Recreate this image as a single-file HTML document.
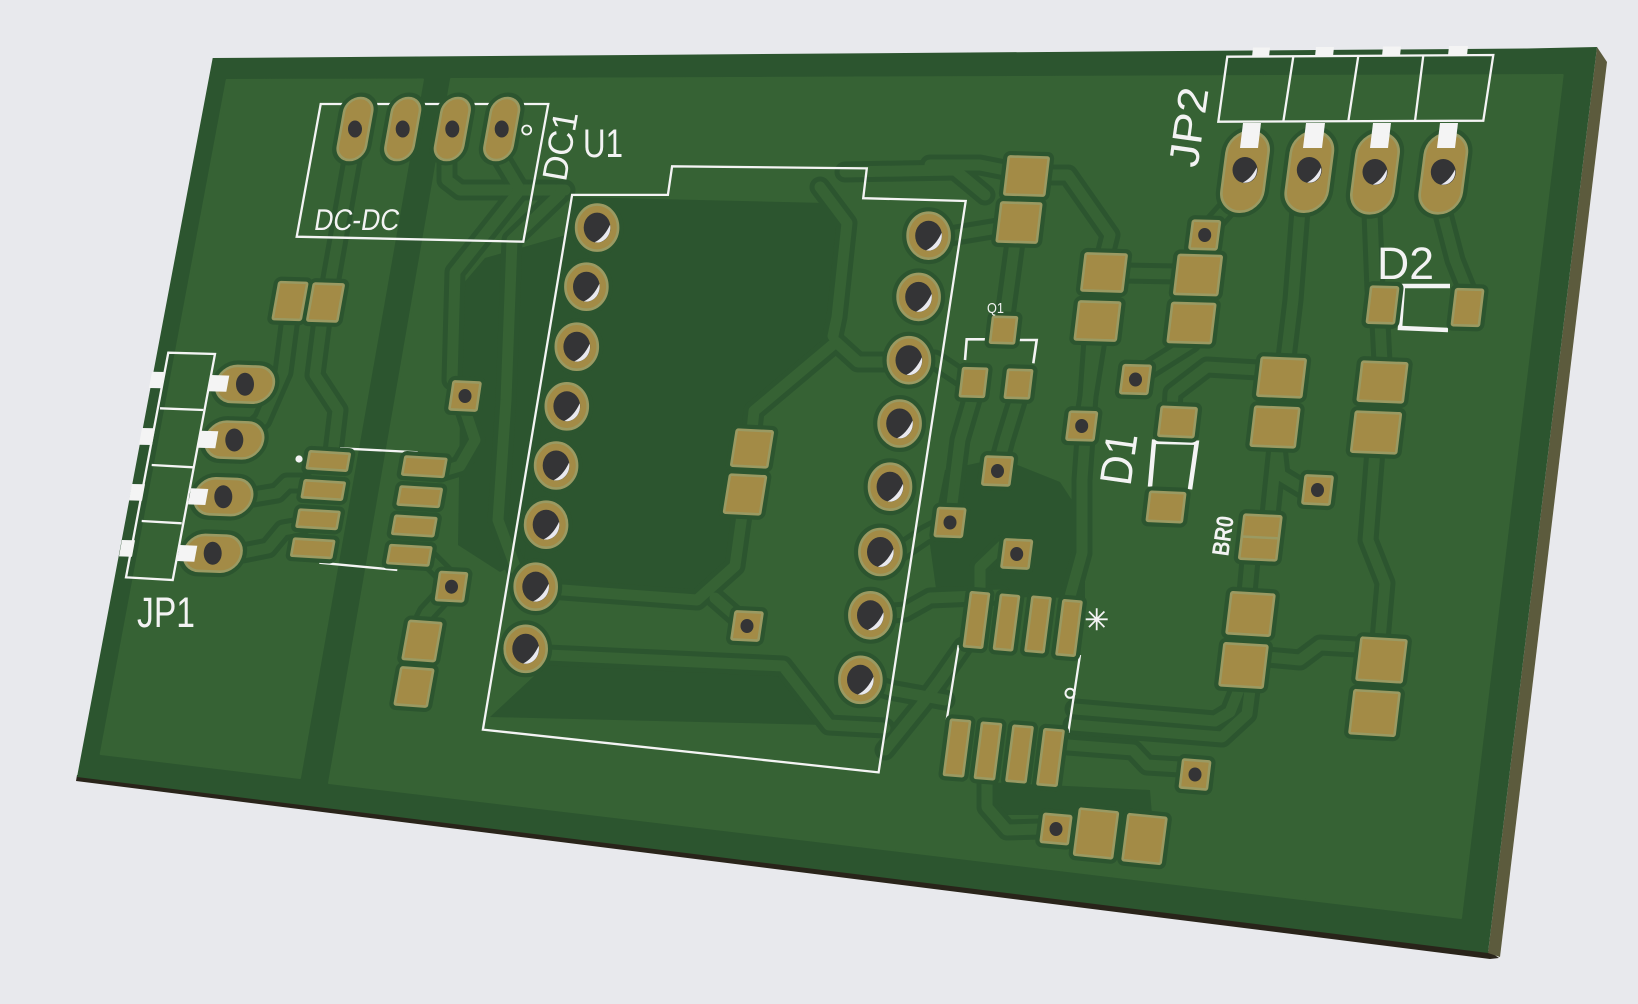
<!DOCTYPE html>
<html><head><meta charset="utf-8"><style>
html,body{margin:0;padding:0;background:#e8e9ed;}
svg{display:block}
text{font-family:"Liberation Sans",sans-serif;fill:#f3f3f3}
</style></head><body>
<svg width="1638" height="1004" viewBox="0 0 1638 1004" xmlns="http://www.w3.org/2000/svg" xmlns:xlink="http://www.w3.org/1999/xlink">
<defs>
<g id="tr">
<polyline points="352,160 330,284"/>
<polyline points="322,320 315,375 338,410 333,452"/>
<polyline points="290,318 283,372 262,420 240,440"/>
<polyline points="253,497 277,493 287,483 305,483"/>
<polyline points="243,553 268,548 283,530 300,527"/>
<polyline points="440,472 460,466 475,440 465,410"/>
<polyline points="430,560 445,575 451,587 427,613 422,623"/>
<polyline points="447,160 447,180 460,190 565,190"/>
<polyline points="502,160 520,190 455,272 452,380"/>
<polyline points="560,194 512,240 506,400 498,520 522,585"/>
<polyline points="548,655 783,666 829,725 885,728"/>
<polyline points="536,588 697,600 735,566 742,515"/>
<polyline points="747,626 715,598"/>
<polyline points="752,430 754,411 836,342 858,362 902,362"/>
<polyline points="820,187 847,223 837,317 833,336"/>
<polyline points="845,172 955,170 985,195"/>
<polyline points="930,165 980,165 1005,170"/>
<polyline points="950,236 998,228"/>
<polyline points="935,360 962,378"/>
<polyline points="1048,175 1068,175 1110,235 1105,255"/>
<polyline points="1125,273 1177,274"/>
<polyline points="1203,235 1230,205 1242,190"/>
<polyline points="1300,210 1293,300 1286,358"/>
<polyline points="1372,213 1375,290"/>
<polyline points="1380,323 1382,362"/>
<polyline points="1443,214 1455,260 1467,290"/>
<polyline points="1258,370 1207,367 1173,393 1172,410"/>
<polyline points="1277,447 1270,515"/>
<polyline points="1305,490 1280,475 1277,447"/>
<polyline points="1250,560 1247,593"/>
<polyline points="1240,687 1230,712 1215,721 1075,709"/>
<polyline points="1250,690 1247,714 1222,737 1073,725"/>
<polyline points="1267,657 1300,660 1320,645 1357,647"/>
<polyline points="1375,450 1368,540 1385,583 1380,640"/>
<polyline points="1180,767 1147,765 1133,750 1068,745"/>
<polyline points="987,780 987,807 1007,830 1040,829"/>
<polyline points="980,592 980,567 1003,545"/>
<polyline points="1069,600 1082,553 1082,480 1092,340"/>
<polyline points="963,647 940,680 923,703 885,750"/>
<polyline points="1015,242 1005,316"/>
<polyline points="973,396 960,440 950,520"/>
<polyline points="1018,398 1005,440 997,470"/>
<polyline points="1097,340 1085,415"/>
<polyline points="1191,343 1140,375"/>
<polyline points="900,552 925,535 950,522"/>
<polyline points="870,615 905,612 930,598 1000,595"/>
<polyline points="860,680 890,690 945,700"/>
</g>
<g id="pads">
<rect transform="matrix(1 0 -.18 1 355 129)" x="-14" y="-31" width="28" height="62" rx="14"/>
<rect transform="matrix(1 0 -.18 1 402.7 129)" x="-14" y="-31" width="28" height="62" rx="14"/>
<rect transform="matrix(1 0 -.18 1 452.3 129)" x="-14" y="-31" width="28" height="62" rx="14"/>
<rect transform="matrix(1 0 -.18 1 501.7 129)" x="-14" y="-31" width="28" height="62" rx="14"/>
<rect transform="matrix(1 .03 -.18 1 290 301)" x="-14" y="-18.5" width="28" height="37" rx="1.5"/>
<rect transform="matrix(1 .03 -.18 1 325.5 302.5)" x="-15" y="-18.5" width="30" height="37" rx="1.5"/>
<rect transform="matrix(1 .035 -.19 1 245 384.3)" x="-28.5" y="-18" width="57" height="36" rx="18"/>
<rect transform="matrix(1 .035 -.19 1 234.3 440)" x="-28.5" y="-18" width="57" height="36" rx="18"/>
<rect transform="matrix(1 .035 -.19 1 223.3 496.7)" x="-28.5" y="-18" width="57" height="36" rx="18"/>
<rect transform="matrix(1 .035 -.19 1 212.7 553.3)" x="-28.5" y="-18" width="57" height="36" rx="18"/>
<rect transform="matrix(1 .06 -.18 1 328.3 461)" x="-20" y="-8.5" width="40" height="17" rx="1"/>
<rect transform="matrix(1 .06 -.18 1 323.3 490)" x="-20" y="-8.5" width="40" height="17" rx="1"/>
<rect transform="matrix(1 .06 -.18 1 318 519.3)" x="-20" y="-8.5" width="40" height="17" rx="1"/>
<rect transform="matrix(1 .06 -.18 1 312.7 548.3)" x="-20" y="-8.5" width="40" height="17" rx="1"/>
<rect transform="matrix(1 .06 -.18 1 424.3 466.7)" x="-20.5" y="-9" width="41" height="18" rx="1"/>
<rect transform="matrix(1 .06 -.18 1 419.7 496.7)" x="-20.5" y="-9" width="41" height="18" rx="1"/>
<rect transform="matrix(1 .06 -.18 1 414.3 526)" x="-20.5" y="-9" width="41" height="18" rx="1"/>
<rect transform="matrix(1 .06 -.18 1 409.3 555.3)" x="-20.5" y="-9" width="41" height="18" rx="1"/>
<rect transform="matrix(1 .07 -.18 1 422 641)" x="-16" y="-19" width="32" height="38" rx="1.5"/>
<rect transform="matrix(1 .07 -.18 1 414 687)" x="-16" y="-18.5" width="32" height="37" rx="1.5"/>
<path d="M576.1 227.6a21 23 0 1 0 42 0a21 23 0 1 0 -42 0M565.4 286.7a21 23 0 1 0 42 0a21 23 0 1 0 -42 0M555.8 346.7a21 23 0 1 0 42 0a21 23 0 1 0 -42 0M545.8 406.3a21 23 0 1 0 42 0a21 23 0 1 0 -42 0M535.1 465.5a21 23 0 1 0 42 0a21 23 0 1 0 -42 0M525.1 524.7a21 23 0 1 0 42 0a21 23 0 1 0 -42 0M514.7 586.7a21 23 0 1 0 42 0a21 23 0 1 0 -42 0M504.7 648.8a21 23 0 1 0 42 0a21 23 0 1 0 -42 0M907.6 235.7a21 23 0 1 0 42 0a21 23 0 1 0 -42 0M897.6 296.9a21 23 0 1 0 42 0a21 23 0 1 0 -42 0M887.9 360.2a21 23 0 1 0 42 0a21 23 0 1 0 -42 0M878.6 423.5a21 23 0 1 0 42 0a21 23 0 1 0 -42 0M869 486.7a21 23 0 1 0 42 0a21 23 0 1 0 -42 0M859.4 552a21 23 0 1 0 42 0a21 23 0 1 0 -42 0M849.4 615.3a21 23 0 1 0 42 0a21 23 0 1 0 -42 0M839.4 679.8a21 23 0 1 0 42 0a21 23 0 1 0 -42 0"/>
<rect transform="matrix(1 .05 -.16 1 752 448.5)" x="-18" y="-18" width="36" height="36" rx="1.5"/>
<rect transform="matrix(1 .05 -.16 1 745 494.5)" x="-18" y="-19" width="36" height="38" rx="1.5"/>
<rect transform="matrix(1 .05 -.15 1 465 396)" x="-13.5" y="-14" width="27" height="28" rx="1.5"/>
<rect transform="matrix(1 .05 -.15 1 451.5 586.7)" x="-13.5" y="-14" width="27" height="28" rx="1.5"/>
<rect transform="matrix(1 .05 -.15 1 747 626)" x="-13.5" y="-14" width="27" height="28" rx="1.5"/>
<rect transform="matrix(1 .03 -.13 1 1204.7 235)" x="-13.5" y="-14" width="27" height="28" rx="1.5"/>
<rect transform="matrix(1 .03 -.13 1 1135.5 379.5)" x="-13.5" y="-14" width="27" height="28" rx="1.5"/>
<rect transform="matrix(1 .03 -.13 1 1081.7 426)" x="-13.5" y="-14" width="27" height="28" rx="1.5"/>
<rect transform="matrix(1 .04 -.13 1 997.5 471)" x="-13.5" y="-14" width="27" height="28" rx="1.5"/>
<rect transform="matrix(1 .04 -.13 1 950 522.5)" x="-13.5" y="-14" width="27" height="28" rx="1.5"/>
<rect transform="matrix(1 .05 -.13 1 1016.7 554)" x="-13.5" y="-14" width="27" height="28" rx="1.5"/>
<rect transform="matrix(1 .05 -.12 1 1317.5 490)" x="-13.5" y="-14" width="27" height="28" rx="1.5"/>
<rect transform="matrix(1 .08 -.12 1 1195 774.5)" x="-13.5" y="-14" width="27" height="28" rx="1.5"/>
<rect transform="matrix(1 .09 -.13 1 1056 829)" x="-13.5" y="-14" width="27" height="28" rx="1.5"/>
<rect transform="matrix(1 .03 -.12 1 1026.5 176)" x="-20" y="-19" width="40" height="38" rx="1.5"/>
<rect transform="matrix(1 .03 -.12 1 1019 222.5)" x="-20" y="-19.5" width="40" height="39" rx="1.5"/>
<rect transform="matrix(1 .03 -.12 1 1003.5 330)" x="-12" y="-13" width="24" height="26" rx="1"/>
<rect transform="matrix(1 .03 -.12 1 973.5 382.5)" x="-12" y="-14" width="24" height="28" rx="1"/>
<rect transform="matrix(1 .03 -.12 1 1018.5 384)" x="-12" y="-14" width="24" height="28" rx="1"/>
<rect transform="matrix(1 .03 -.12 1 1104 272.5)" x="-20.5" y="-18.5" width="41" height="37" rx="1.5"/>
<rect transform="matrix(1 .03 -.12 1 1097.5 321)" x="-20.5" y="-19" width="41" height="38" rx="1.5"/>
<rect transform="matrix(1 .03 -.12 1 1198 275)" x="-21.5" y="-19.5" width="43" height="39" rx="1.5"/>
<rect transform="matrix(1 .03 -.12 1 1191.5 323)" x="-21.5" y="-19.5" width="43" height="39" rx="1.5"/>
<rect transform="matrix(1 .04 -.12 1 1177.5 422)" x="-17.5" y="-14.5" width="35" height="29" rx="1.5"/>
<rect transform="matrix(1 .04 -.12 1 1166 507)" x="-17.5" y="-14.5" width="35" height="29" rx="1.5"/>
<rect transform="matrix(1 .04 -.12 1 1281.5 377.5)" x="-22" y="-19" width="44" height="38" rx="1.5"/>
<rect transform="matrix(1 .04 -.12 1 1275 427)" x="-22" y="-19.5" width="44" height="39" rx="1.5"/>
<rect transform="matrix(1 .04 -.12 1 1382.5 382)" x="-22.5" y="-19.5" width="45" height="39" rx="1.5"/>
<rect transform="matrix(1 .04 -.12 1 1376 432.5)" x="-22.5" y="-20" width="45" height="40" rx="1.5"/>
<rect transform="matrix(1 .03 -.12 1 1382.5 305)" x="-13.5" y="-18" width="27" height="36" rx="1.5"/>
<rect transform="matrix(1 .03 -.12 1 1467.5 307.5)" x="-13.5" y="-18" width="27" height="36" rx="1.5"/>
<rect transform="matrix(1 .05 -.12 1 1260.3 537.5)" x="-18.5" y="-22" width="37" height="44" rx="1.5"/>
<rect transform="matrix(1 .06 -.12 1 1250.5 614)" x="-21.5" y="-20.5" width="43" height="41" rx="1.5"/>
<rect transform="matrix(1 .06 -.12 1 1243.5 665.5)" x="-21.5" y="-21" width="43" height="42" rx="1.5"/>
<rect transform="matrix(1 .06 -.12 1 1381.5 660)" x="-22.5" y="-21" width="45" height="42" rx="1.5"/>
<rect transform="matrix(1 .06 -.12 1 1374.5 713)" x="-22.5" y="-21.5" width="45" height="43" rx="1.5"/>
<rect transform="matrix(1 .08 -.13 1 976.5 620)" x="-9" y="-27" width="18" height="54" rx="1"/>
<rect transform="matrix(1 .08 -.13 1 1006.5 622.5)" x="-9" y="-27" width="18" height="54" rx="1"/>
<rect transform="matrix(1 .08 -.13 1 1038 624.5)" x="-9" y="-27" width="18" height="54" rx="1"/>
<rect transform="matrix(1 .08 -.13 1 1069 628)" x="-9" y="-27" width="18" height="54" rx="1"/>
<rect transform="matrix(1 .08 -.13 1 957 748)" x="-9.5" y="-27.5" width="19" height="55" rx="1"/>
<rect transform="matrix(1 .08 -.13 1 988 751)" x="-9.5" y="-27.5" width="19" height="55" rx="1"/>
<rect transform="matrix(1 .08 -.13 1 1019.5 754)" x="-9.5" y="-27.5" width="19" height="55" rx="1"/>
<rect transform="matrix(1 .08 -.13 1 1050.5 757.5)" x="-9.5" y="-27.5" width="19" height="55" rx="1"/>
<rect transform="matrix(1 .1 -.13 1 1096 833.5)" x="-19" y="-23" width="38" height="46" rx="1.5"/>
<rect transform="matrix(1 .1 -.13 1 1144.5 839)" x="-19" y="-23" width="38" height="46" rx="1.5"/>
<rect transform="matrix(1 0 -.13 1 1245 171.7)" x="-21" y="-40" width="42" height="80" rx="21"/>
<rect transform="matrix(1 0 -.13 1 1309.3 171.7)" x="-21" y="-40" width="42" height="80" rx="21"/>
<rect transform="matrix(1 0 -.13 1 1375 173.3)" x="-21" y="-40" width="42" height="80" rx="21"/>
<rect transform="matrix(1 0 -.13 1 1443.3 173.3)" x="-21" y="-40" width="42" height="80" rx="21"/>
</g>
</defs>

<rect width="1638" height="1004" fill="#e8e9ed"/>
<polygon points="77,775 1489,951 1499,958 1490,959 76,781" fill="#29241a"/>
<polygon points="1597,47 1607,62 1500,957 1488,953" fill="#5c5b3d"/>
<polygon points="212.7,58 1527,48.5 1597,47 1488,953 77,777" fill="#2c552f"/>
<polygon points="226.7,80 423,79.5 300,778 100.7,754" fill="#366234" stroke="#366234" stroke-width="2" stroke-linejoin="round"/>
<polygon points="451,79 1562.7,75 1461,918 329,783" fill="#366234" stroke="#366234" stroke-width="2" stroke-linejoin="round"/>
<g fill="#2c552f">
<polygon points="570,197 826,203 847,226 836,317 833,336 754,411 742,436 738,517 731,562 697,594 558,585 520,583"/>
<polygon points="462,285 485,258 566,235 524,560 500,572 458,545"/>
<polygon points="547,664 781,674 826,725 490,717"/>
<polygon points="945,470 1000,458 1060,482 1085,520 1085,598 937,596 930,545"/>
<polygon points="985,782 1150,790 1152,815 1005,815 987,805"/>
</g>
<use xlink:href="#tr" href="#tr" fill="none" stroke="#2c552f" stroke-width="21" stroke-linejoin="round" stroke-linecap="round"/>
<use xlink:href="#tr" href="#tr" fill="none" stroke="#366234" stroke-width="11" stroke-linejoin="round" stroke-linecap="round"/>

<g fill="none" stroke="#f4f4f4" stroke-width="2.3">
<polygon points="320.7,104 548.3,104 523.3,241.7 296.7,236.7"/>
<polygon points="572.1,194.9 667.9,194.9 672.1,166.3 866.8,168.4 863.2,198.2 965.7,201 878.6,772.4 482.9,729.6"/>
<polygon points="168.3,352.7 215,354 172.7,580 126,577.3"/>
<path d="M160 408.3L203.3 410M151.7 465L193.3 467.3M141.7 521L181.7 523.3"/>
<polygon points="1227.3,56.7 1493.3,55 1483.3,120.7 1218.3,121.7"/>
<path d="M1293.3 56.7L1283.3 121.7M1358.3 56L1348.3 121.3M1423.3 55.5L1415 121"/>
<path d="M340 448.3L417.7 452.3M319.3 562.7L397.3 570M958.7 645L946.7 720M1080 655L1068.3 732.7"/>
<circle cx="1070" cy="693.3" r="4.5" stroke-width="2"/>
<circle cx="526.7" cy="130" r="4.5" stroke-width="1.8"/>
<path d="M965 360L966.7 339.3L985 339.3M1019.3 340L1036.7 340L1033.3 363.3" stroke-width="2.6"/>
<path d="M1150 486.7L1154 441.7L1196.7 442.7L1190 489.3M1450 286L1403 286L1400 328L1448 330" stroke-width="4.5"/>
<path d="M1085.7 619.3H1107.7M1096.7 608.3V630.3M1089 611.5L1104.4 627.1M1104.4 611.5L1089 627.1" stroke-width="1.8"/>
</g>
<circle cx="299" cy="459" r="3.6" fill="#f4f4f4"/>

<use xlink:href="#pads" href="#pads" fill="#2c552f" stroke="#2c552f" stroke-width="11" stroke-linejoin="round"/>
<use xlink:href="#pads" href="#pads" fill="#a38b46" stroke="#9a9a62" stroke-width="2.6"/>
<line x1="1242" y1="536.5" x2="1279" y2="538.4" stroke="#9a9a62" stroke-width="2.5"/>

<g fill="#343436">
<path d="M348 129a7 8.5 0 1 0 14 0a7 8.5 0 1 0 -14 0M395.7 129a7 8.5 0 1 0 14 0a7 8.5 0 1 0 -14 0M445.3 129a7 8.5 0 1 0 14 0a7 8.5 0 1 0 -14 0M494.7 129a7 8.5 0 1 0 14 0a7 8.5 0 1 0 -14 0"/>
<path d="M236 384.3a9 11.5 0 1 0 18 0a9 11.5 0 1 0 -18 0M225.3 440a9 11.5 0 1 0 18 0a9 11.5 0 1 0 -18 0M214.3 496.7a9 11.5 0 1 0 18 0a9 11.5 0 1 0 -18 0M203.7 553.3a9 11.5 0 1 0 18 0a9 11.5 0 1 0 -18 0"/>
<path d="M1232.5 170a12.5 13 0 1 0 25 0a12.5 13 0 1 0 -25 0M1296.8 170a12.5 13 0 1 0 25 0a12.5 13 0 1 0 -25 0M1362.5 172a12.5 13 0 1 0 25 0a12.5 13 0 1 0 -25 0M1430.8 172a12.5 13 0 1 0 25 0a12.5 13 0 1 0 -25 0"/>
<path d="M583.7 227.6a13.4 15 0 1 0 26.8 0a13.4 15 0 1 0 -26.8 0M573 286.7a13.4 15 0 1 0 26.8 0a13.4 15 0 1 0 -26.8 0M563.4 346.7a13.4 15 0 1 0 26.8 0a13.4 15 0 1 0 -26.8 0M553.4 406.3a13.4 15 0 1 0 26.8 0a13.4 15 0 1 0 -26.8 0M542.7 465.5a13.4 15 0 1 0 26.8 0a13.4 15 0 1 0 -26.8 0M532.7 524.7a13.4 15 0 1 0 26.8 0a13.4 15 0 1 0 -26.8 0M522.3 586.7a13.4 15 0 1 0 26.8 0a13.4 15 0 1 0 -26.8 0M512.3 648.8a13.4 15 0 1 0 26.8 0a13.4 15 0 1 0 -26.8 0M915.2 235.7a13.4 15 0 1 0 26.8 0a13.4 15 0 1 0 -26.8 0M905.2 296.9a13.4 15 0 1 0 26.8 0a13.4 15 0 1 0 -26.8 0M895.5 360.2a13.4 15 0 1 0 26.8 0a13.4 15 0 1 0 -26.8 0M886.2 423.5a13.4 15 0 1 0 26.8 0a13.4 15 0 1 0 -26.8 0M876.6 486.7a13.4 15 0 1 0 26.8 0a13.4 15 0 1 0 -26.8 0M867 552a13.4 15 0 1 0 26.8 0a13.4 15 0 1 0 -26.8 0M857 615.3a13.4 15 0 1 0 26.8 0a13.4 15 0 1 0 -26.8 0M847 679.8a13.4 15 0 1 0 26.8 0a13.4 15 0 1 0 -26.8 0"/>
<path d="M458.5 396a6.5 7 0 1 0 13 0a6.5 7 0 1 0 -13 0M445 586.7a6.5 7 0 1 0 13 0a6.5 7 0 1 0 -13 0M740.5 626a6.5 7 0 1 0 13 0a6.5 7 0 1 0 -13 0M1198.2 235a6.5 7 0 1 0 13 0a6.5 7 0 1 0 -13 0M1129 379.5a6.5 7 0 1 0 13 0a6.5 7 0 1 0 -13 0M1075.2 426a6.5 7 0 1 0 13 0a6.5 7 0 1 0 -13 0M991 471a6.5 7 0 1 0 13 0a6.5 7 0 1 0 -13 0M943.5 522.5a6.5 7 0 1 0 13 0a6.5 7 0 1 0 -13 0M1010.2 554a6.5 7 0 1 0 13 0a6.5 7 0 1 0 -13 0M1311 490a6.5 7 0 1 0 13 0a6.5 7 0 1 0 -13 0M1188.5 774.5a6.5 7 0 1 0 13 0a6.5 7 0 1 0 -13 0M1049.5 829a6.5 7 0 1 0 13 0a6.5 7 0 1 0 -13 0"/>
</g>
<path fill="#e9e9ee" d="M610.1 224.6a13.4 15 0 0 1 -15.5 17.7q9.5 -4.7 15.5 -17.7zM599.4 283.7a13.4 15 0 0 1 -15.5 17.7q9.5 -4.7 15.5 -17.7zM589.8 343.7a13.4 15 0 0 1 -15.5 17.7q9.5 -4.7 15.5 -17.7zM579.8 403.3a13.4 15 0 0 1 -15.5 17.7q9.5 -4.7 15.5 -17.7zM569.1 462.5a13.4 15 0 0 1 -15.5 17.7q9.5 -4.7 15.5 -17.7zM559.1 521.7a13.4 15 0 0 1 -15.5 17.7q9.5 -4.7 15.5 -17.7zM548.7 583.7a13.4 15 0 0 1 -15.5 17.7q9.5 -4.7 15.5 -17.7zM538.7 645.8a13.4 15 0 0 1 -15.5 17.7q9.5 -4.7 15.5 -17.7zM941.6 232.7a13.4 15 0 0 1 -15.5 17.7q9.5 -4.7 15.5 -17.7zM931.6 293.9a13.4 15 0 0 1 -15.5 17.7q9.5 -4.7 15.5 -17.7zM921.9 357.2a13.4 15 0 0 1 -15.5 17.7q9.5 -4.7 15.5 -17.7zM912.6 420.5a13.4 15 0 0 1 -15.5 17.7q9.5 -4.7 15.5 -17.7zM903 483.7a13.4 15 0 0 1 -15.5 17.7q9.5 -4.7 15.5 -17.7zM893.4 549a13.4 15 0 0 1 -15.5 17.7q9.5 -4.7 15.5 -17.7zM883.4 612.3a13.4 15 0 0 1 -15.5 17.7q9.5 -4.7 15.5 -17.7zM873.4 676.8a13.4 15 0 0 1 -15.5 17.7q9.5 -4.7 15.5 -17.7zM1256.7 167.5a12 12.7 0 0 1 -13.9 15q8.5 -4 13.9 -15zM1321 167.5a12 12.7 0 0 1 -13.9 15q8.5 -4 13.9 -15zM1386.7 169.5a12 12.7 0 0 1 -13.9 15q8.5 -4 13.9 -15zM1455 169.5a12 12.7 0 0 1 -13.9 15q8.5 -4 13.9 -15z"/>

<g fill="#f4f4f4">
<polygon points="152,371.7 165,372 162,388.3 149,388"/>
<polygon points="142,428 155,428.3 152,445 139,444.7"/>
<polygon points="132,484 145,484.3 142,500.7 129,500.4"/>
<polygon points="122,540 135,540.3 132,556.7 119,556.4"/>
<polygon points="211,375 229.3,375.6 226.3,391.7 208,391.2"/>
<polygon points="201,430.7 218.3,431.3 215.3,448.3 198,447.7"/>
<polygon points="191,488.3 208.3,489 205.3,505 188,504.4"/>
<polygon points="180,545 197.3,545.7 194.3,561.7 177,561"/>
<polygon points="1243,123 1261,123 1258,148 1240,148"/>
<polygon points="1306,123 1325,123 1322,148 1303,148"/>
<polygon points="1373,123 1391,123 1388,148 1370,148"/>
<polygon points="1440,123 1458,123 1455,148 1437,148"/>
<polygon points="1253,47.5 1270,47.5 1269,57 1252,57"/>
<polygon points="1316,47 1334,47 1333,56.5 1315,56.5"/>
<polygon points="1383,46.5 1401,46.5 1400,56 1382,56"/>
<polygon points="1449,46 1468,46 1467,55.5 1448,55.5"/>
</g>

<text transform="translate(313 230) skewX(-9)" font-size="30" textLength="85" lengthAdjust="spacingAndGlyphs">DC-DC</text>
<text transform="translate(572 148) rotate(-80)" font-size="35" text-anchor="middle" textLength="70" lengthAdjust="spacingAndGlyphs">DC1</text>
<text x="583" y="157" font-size="40" textLength="40" lengthAdjust="spacingAndGlyphs">U1</text>
<text x="137" y="627" font-size="43" textLength="58" lengthAdjust="spacingAndGlyphs">JP1</text>
<text transform="translate(1203 129) rotate(-82)" font-size="42" text-anchor="middle" textLength="80" lengthAdjust="spacingAndGlyphs">JP2</text>
<text x="987" y="313" font-size="15" textLength="17" lengthAdjust="spacingAndGlyphs">Q1</text>
<text transform="translate(1134 461) rotate(-82)" font-size="45" text-anchor="middle" textLength="52" lengthAdjust="spacingAndGlyphs">D1</text>
<text x="1377" y="279" font-size="45" textLength="57" lengthAdjust="spacingAndGlyphs">D2</text>
<text transform="translate(1231 537) rotate(-82)" font-size="24" font-weight="bold" text-anchor="middle" textLength="40" lengthAdjust="spacingAndGlyphs">BR0</text>
</svg>
</body></html>
